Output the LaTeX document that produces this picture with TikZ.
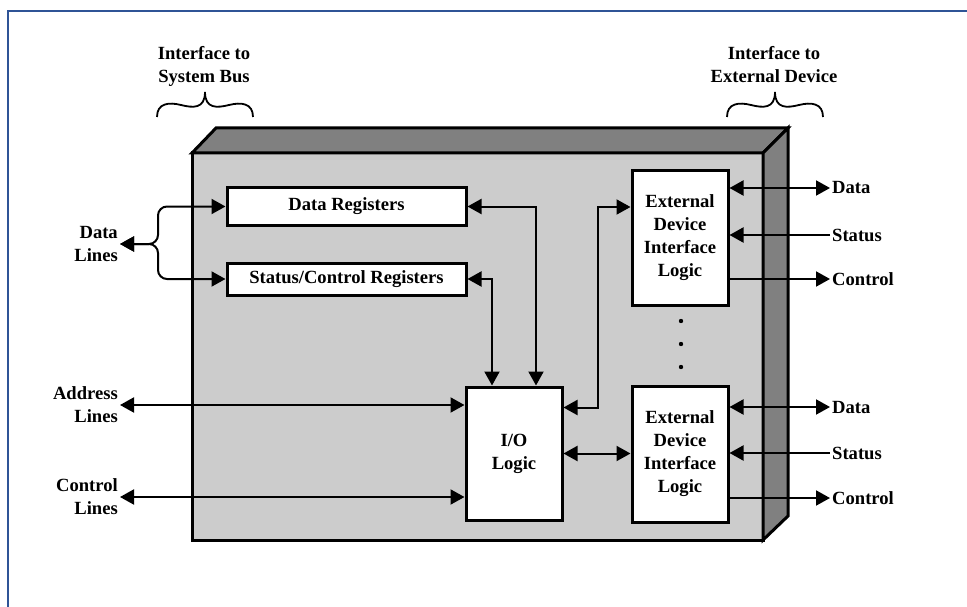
\documentclass[tikz,border=0pt]{standalone}
\usepackage{fontspec}
\setmainfont{Liberation Serif}
\usetikzlibrary{arrows.meta}
\definecolor{frameblue}{RGB}{47,84,150}
\definecolor{facegray}{RGB}{204,204,204}
\definecolor{edgegray}{RGB}{128,128,128}
\begin{document}
\begin{tikzpicture}[x=1pt,y=-1pt,
  txt/.style={font=\fontsize{18.6}{23}\selectfont\bfseries, inner sep=2pt},
  block/.style={txt, draw, line width=3pt, fill=white, align=center},
  tip/.tip={Triangle[length=14pt,width=15pt]},
  conn/.style={line width=2pt, -tip},
  dbl/.style={line width=2pt, tip-tip},
  bracepath/.style={line width=1.8pt},
]
\useasboundingbox (0,0) rectangle (967,607);

% page frame
\draw[frameblue, line width=2pt] (8,607) -- (8,11) -- (967,11);

% the module box: front face, top and side
\filldraw[fill=facegray, line width=3pt] (192,153) rectangle (763,540);
\filldraw[fill=edgegray, line width=3pt, line join=miter] (192,153) -- (216,128) -- (788,128) -- (763,153) -- cycle;
\filldraw[fill=edgegray, line width=3pt, line join=miter] (763,153) -- (788,128) -- (788,516) -- (763,540) -- cycle;

% interface braces
\foreach \bx in {157,727}{
  \draw[bracepath] (\bx,117) .. controls (\bx,103) and (\bx+12,102) .. (\bx+24,105)
    .. controls (\bx+36,108) and (\bx+48,109) .. (\bx+48,92)
    .. controls (\bx+48,109) and (\bx+60,108) .. (\bx+72,105)
    .. controls (\bx+84,102) and (\bx+96,103) .. (\bx+96,117);
}
\node[txt, align=center] (ib) at (204,66) {Interface to\\System Bus};
\node[txt, align=center] (ie) at (774,65) {Interface to\\External Device};

% inner blocks
\node[block, minimum width=239pt, minimum height=37pt] (dr) at (346.5,206.5) {Data Registers};
\node[block, minimum width=239pt, minimum height=32pt] (scr) at (346.5,279) {Status/Control Registers};
\node[block, minimum width=96pt, minimum height=133pt] (io) at (514,453.5) {I/O\\Logic};
\node[block, minimum width=96pt, minimum height=134pt] (ed1) at (680,238) {External\\Device\\Interface\\Logic};
\node[block, minimum width=96pt, minimum height=136pt] (ed2) at (680,454) {External\\Device\\Interface\\Logic};

% vertical ellipsis between the device interfaces
\fill (681,321) circle (2.2);
\fill (681,344) circle (2.2);
\fill (681,367) circle (2.2);

% system bus side
\node[txt, align=right, anchor=east] (dl) at (120,244) {Data\\Lines};
\node[txt, align=right, anchor=east] (al) at (120,405) {Address\\Lines};
\node[txt, align=right, anchor=east] (cl) at (120,497) {Control\\Lines};

\draw[dbl, rounded corners=9pt] (dl.east) -- ++(38,0) |- (dr.west);
\draw[dbl, rounded corners=9pt] (dl.east) -- ++(38,0) |- (scr.west);
\draw[dbl] (al.east) -- (al.east -| io.west);
\draw[dbl] (cl.east) -- (cl.east -| io.west);

% internal paths
\draw[dbl] (dr.east) -| ([xshift=22pt]io.north);
\draw[dbl] (scr.east) -| ([xshift=-22pt]io.north);
\draw[dbl] ([yshift=46pt]io.east) -- ++(34,0) |- ([yshift=31pt]ed1.west);
\draw[dbl] (io.east) -- (io.east -| ed2.west);

% external device side
\node[txt, anchor=west] (d1) at (830,188) {Data};
\node[txt, anchor=west] (s1) at (830,235) {Status};
\node[txt, anchor=west] (c1) at (830,279) {Control};
\node[txt, anchor=west] (d2) at (830,407) {Data};
\node[txt, anchor=west] (s2) at (830,453) {Status};
\node[txt, anchor=west] (c2) at (830,498) {Control};

\draw[dbl] (d1.west -| ed1.east) -- (d1.west);
\draw[conn] (s1.west) -- (s1.west -| ed1.east);
\draw[conn] (c1.west -| ed1.east) -- (c1.west);
\draw[dbl] (d2.west -| ed2.east) -- (d2.west);
\draw[conn] (s2.west) -- (s2.west -| ed2.east);
\draw[conn] (c2.west -| ed2.east) -- (c2.west);
\end{tikzpicture}
\end{document}
